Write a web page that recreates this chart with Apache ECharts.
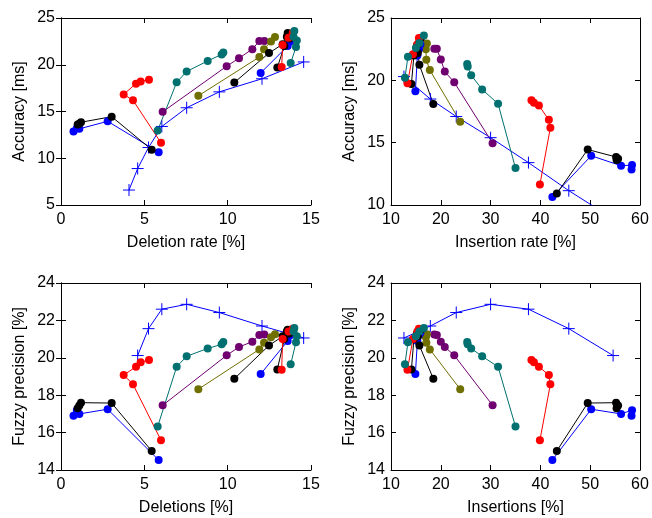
<!DOCTYPE html>
<html>
<head>
<meta charset="utf-8">
<script src="https://cdn.jsdelivr.net/npm/echarts@6/dist/echarts.min.js"></script>
<style>
  html, body { margin: 0; padding: 0; background: #fff; }
  #chart { width: 652px; height: 518px; }
</style>
</head>
<body>
<div id="chart"></div>
<script>
// every row: [deletion %, insertion %, accuracy ms, fuzzy precision %]
const plusRun = [[4.08, 63.0, 6.6, null], [4.6, 54.6, 8.9, 20.12], [5.25, 45.7, 11.15, 21.56], [6.05, 37.6, 13.4, 22.6],
  [7.54, 30.0, 15.4, 22.86], [9.5, 23.1, 17.1, 22.42], [12.06, 17.9, 18.5, 21.7], [14.56, 12.6, 20.3, 21.06]]
const blueA = [[5.86, 42.4, 10.65, 14.53], [2.8, 50.2, 13.95, 17.25], [1.1, 56.2, 13.15, 17.0], [0.95, 58.4, 13.2, 17.2], [0.75, 58.3, 12.85, 16.9]]
const blackA = [[5.44, 43.3, 10.92, 15.02], [3.04, 49.5, 14.45, 17.58], [1.2, 55.2, 13.85, 17.6], [1.1, 55.6, 13.7, 17.45], [1.0, 55.3, 13.6, 17.3]]
const redA = [[6.0, 39.9, 11.65, 15.59], [4.32, 42.0, 16.2, 18.58], [3.76, 41.7, 16.83, 19.08], [4.5, 39.7, 17.98, 19.52], [4.78, 38.7, 18.2, 19.76], [5.28, 38.2, 18.4, 19.88]]
const purpleA = [[6.1, 30.4, 14.96, 17.46], [9.94, 22.7, 19.84, 20.13], [10.68, 20.8, 20.7, 20.58], [11.48, 20.0, 21.67, 20.86], [11.9, 19.2, 22.53, 21.22], [12.2, 18.7, 22.53, 21.24]]
const tealA = [[5.8, 35.0, 12.96, 16.32], [6.94, 31.5, 18.12, 19.52], [7.54, 28.3, 19.27, 20.08], [8.8, 26.1, 20.41, 20.5], [9.64, 25.4, 21.1, 20.72], [9.74, 25.3, 21.31, 20.84]]
const oliveA = [[8.24, 23.9, 16.68, 18.32], [11.9, 17.8, 20.82, 20.45], [12.18, 17.1, 21.65, 20.8], [12.6, 17.0, 22.5, 21.1], [12.84, 17.2, 22.96, 21.26]]
const blueB = [[11.98, 14.9, 19.12, 19.13], [13.6, 15.3, 22.0, 20.9], [13.75, 15.6, 22.5, 21.2], [13.85, 15.9, 22.9, 21.35]]
const blackB = [[10.4, 18.5, 18.1, 18.88], [12.48, 15.7, 21.25, 20.66], [13.3, 15.4, 22.2, 21.15], [13.55, 15.6, 23.0, 21.4], [13.6, 16.0, 23.4, 21.5]]
const blackC = [[12.98, 14.1, 19.7, 19.38], [13.4, 14.6, 22.0, 21.0], [13.7, 15.2, 22.8, 21.3]]
const redB = [[13.24, 13.3, 19.76, 19.36], [13.3, 14.4, 22.1, 21.0], [13.65, 15.3, 22.9, 21.4], [13.9, 15.6, 23.4, 21.55]]
const tealB = [[13.78, 12.8, 20.2, 19.65], [14.1, 13.4, 21.9, 20.83], [14.15, 15.0, 22.6, 21.15], [13.95, 15.7, 23.0, 21.4], [14.0, 16.6, 23.6, 21.6]]

const xTitles = ['Deletion rate [%]', 'Insertion rate [%]', 'Deletions [%]', 'Insertions [%]']
const yTitles = ['Accuracy [ms]', 'Accuracy [ms]', 'Fuzzy precision [%]', 'Fuzzy precision [%]']
const xRanges = [[0, 15, 5], [10, 60, 10], [0, 15, 5], [10, 60, 10]]
const yRanges = [[5, 25, 5], [10, 25, 5], [14, 24, 2], [14, 24, 2]]

const runs = [
  { rows: blueA, color: '#0000ff' },
  { rows: blackA, color: '#000000' },
  { rows: redA, color: '#ff0000' },
  { rows: purpleA, color: '#700070' },
  { rows: tealA, color: '#007070' },
  { rows: oliveA, color: '#707000' },
  { rows: blueB, color: '#0000ff' },
  { rows: blackB, color: '#000000' },
  { rows: blackC, color: '#000000' },
  { rows: redB, color: '#ff0000' },
  { rows: tealB, color: '#007070' }
]

const FONT = "'Liberation Sans Narrow', 'Liberation Sans', Arial, sans-serif"
const grids = [
  { left: 61, top: 18, width: 250, height: 187 },
  { left: 391, top: 18, width: 249, height: 187 },
  { left: 61, top: 283, width: 250, height: 187 },
  { left: 391, top: 283, width: 249, height: 187 }
]
// which columns go on x and y in each panel
const cols = [[0, 2], [1, 2], [0, 3], [1, 3]]

const xAxis = []
const yAxis = []
const series = []

grids.forEach((g, i) => {
  const [xmin, xmax, xint] = xRanges[i]
  const [ymin, ymax, yint] = yRanges[i]
  const common = {
    axisLine: { lineStyle: { color: '#000', width: 1 } },
    axisTick: { inside: true, length: 5, lineStyle: { color: '#000' } },
    splitLine: { show: false }
  }
  xAxis.push({
    ...common, type: 'value', gridIndex: i, position: 'bottom', min: xmin, max: xmax, interval: xint,
    name: xTitles[i], nameLocation: 'middle', nameGap: 30,
    nameTextStyle: { color: '#000', fontSize: 16, fontFamily: FONT },
    axisLabel: { color: '#000', fontSize: 16, fontFamily: FONT, margin: 7 }
  })
  xAxis.push({
    ...common, type: 'value', gridIndex: i, position: 'top', min: xmin, max: xmax, interval: xint,
    axisLabel: { show: false }
  })
  yAxis.push({
    ...common, type: 'value', gridIndex: i, position: 'left', min: ymin, max: ymax, interval: yint,
    name: yTitles[i], nameLocation: 'middle', nameGap: 33,
    nameTextStyle: { color: '#000', fontSize: 16, fontFamily: FONT },
    axisLabel: { color: '#000', fontSize: 16, fontFamily: FONT, margin: 6 }
  })
  yAxis.push({
    ...common, type: 'value', gridIndex: i, position: 'right', min: ymin, max: ymax, interval: yint,
    axisLabel: { show: false }
  })

  const [cx, cy] = cols[i]
  series.push({
    type: 'line', xAxisIndex: 2 * i, yAxisIndex: 2 * i,
    data: plusRun.filter(r => r[cy] !== null).map(r => [r[cx], r[cy]]),
    symbol: 'path://M0,6H12M6,0V12', symbolSize: 12,
    itemStyle: { color: 'none', borderColor: '#0000ff', borderWidth: 1 },
    lineStyle: { color: '#0000ff', width: 1 },
    animation: false, silent: true
  })
  runs.forEach(run => {
    series.push({
      type: 'line', xAxisIndex: 2 * i, yAxisIndex: 2 * i,
      data: run.rows.map(r => [r[cx], r[cy]]),
      symbol: 'circle', symbolSize: 8, showAllSymbol: true,
      itemStyle: { color: run.color },
      lineStyle: { color: run.color, width: 1 },
      animation: false, silent: true
    })
  })
})

const chart = echarts.init(document.getElementById('chart'))
chart.setOption({
  backgroundColor: '#fff',
  animation: false,
  grid: grids,
  xAxis,
  yAxis,
  series
})
</script>
</body>
</html>
